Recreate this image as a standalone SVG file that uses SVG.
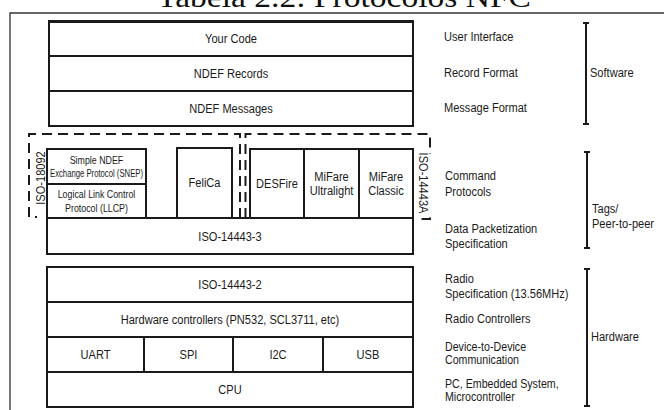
<svg xmlns="http://www.w3.org/2000/svg" width="664" height="410" viewBox="0 0 664 410">
<style>
.box{fill:#fff;stroke:#1a1a1a;stroke-width:2}
.dash{fill:none;stroke:#1a1a1a;stroke-width:2;stroke-dasharray:10 6}
.br{fill:none;stroke:#1a1a1a;stroke-width:2}
.t{font-family:"Liberation Sans",Arial,sans-serif;font-size:13.5px;fill:#1a1a1a}
.n{transform-box:fill-box;transform:scaleX(0.82)}
.m{text-anchor:middle;transform-origin:center}
.l{transform-origin:left center}
.s{font-size:10.8px}
.c{font-size:13px}
</style>
<rect width="664" height="410" fill="#fff"/>
<text x="157" y="7" font-family="Liberation Serif,serif" font-size="30" textLength="374" lengthAdjust="spacingAndGlyphs" fill="#111">Tabela 2.2: Protocolos NFC</text>
<path d="M10,410 V13 H664" fill="none" stroke="#333" stroke-width="1.3"/>

<g id="your-code"><rect class="box" x="49" y="21" width="364" height="35"/><line x1="49" y1="21.5" x2="413" y2="21.5" stroke="#1a1a1a" stroke-width="3"/><text class="t n m" x="231" y="43">Your Code</text></g>
<g id="ndef-records"><rect class="box" x="49" y="56" width="364" height="35"/><text class="t n m" x="231" y="78">NDEF Records</text></g>
<g id="ndef-messages"><rect class="box" x="49" y="91" width="364" height="35"/><text class="t n m" x="231" y="113">NDEF Messages</text></g>

<g id="iso-18092-group">
<path class="dash" d="M240,218 V134 H29 V217 H37"/>
<text class="t" transform="translate(45,178) rotate(-90) scale(0.82,1)" text-anchor="middle">ISO-18092</text>
</g>
<g id="iso-14443a-group">
<path class="dash" d="M245.5,218 V134 H430 V219 H421"/>
<rect x="416" y="154" width="18" height="59" fill="#fff"/>
<text class="t" transform="translate(419,183) rotate(90) scale(0.82,1)" text-anchor="middle">ISO-14443A</text>
</g>

<g id="snep"><rect class="box" x="47" y="149" width="99" height="35"/><text class="t s n m" x="96.5" y="164.5">Simple NDEF</text><text class="t s m" x="96.5" y="177" textLength="93" lengthAdjust="spacingAndGlyphs">Exchange Protocol (SNEP)</text></g>
<g id="llcp"><rect class="box" x="47" y="184" width="99" height="34"/><text class="t s n m" x="96.5" y="198">Logical Link Control</text><text class="t s n m" x="96.5" y="212">Protocol (LLCP)</text></g>
<g id="felica"><rect class="box" x="177" y="148" width="55" height="70"/><text class="t n m" x="204.5" y="187" font-size="14.5">FeliCa</text></g>
<g id="desfire"><rect class="box" x="250" y="149" width="54" height="69"/><text class="t n m" x="277" y="188" font-size="14.5">DESFire</text></g>
<g id="mifare-ultralight"><rect class="box" x="304" y="149" width="55" height="69"/><text class="t n m" x="331.5" y="181">MiFare</text><text class="t n m" x="331.5" y="195">Ultralight</text></g>
<g id="mifare-classic"><rect class="box" x="359" y="149" width="54" height="69"/><text class="t n m" x="386" y="181">MiFare</text><text class="t n m" x="386" y="195">Classic</text></g>
<g id="iso-14443-3"><rect class="box" x="47" y="218" width="366" height="36"/><text class="t n m" x="230" y="241">ISO-14443-3</text></g>

<g id="iso-14443-2"><rect class="box" x="47" y="267" width="366" height="35"/><text class="t n m" x="230" y="289">ISO-14443-2</text></g>
<g id="hw-controllers"><rect class="box" x="47" y="302" width="366" height="35"/><text class="t n m" x="230" y="324">Hardware controllers (PN532, SCL3711, etc)</text></g>
<g id="uart"><rect class="box" x="47" y="337" width="97" height="35"/><text class="t n m" x="95.5" y="359">UART</text></g>
<g id="spi"><rect class="box" x="144" y="337" width="89" height="35"/><text class="t n m" x="188.5" y="359">SPI</text></g>
<g id="i2c"><rect class="box" x="233" y="337" width="90" height="35"/><text class="t n m" x="278" y="359">I2C</text></g>
<g id="usb"><rect class="box" x="323" y="337" width="90" height="35"/><text class="t n m" x="368" y="359">USB</text></g>
<g id="cpu"><rect class="box" x="47" y="372" width="366" height="35"/><text class="t n m" x="230" y="394">CPU</text></g>

<g id="layer-labels">
<text class="t n l" x="444" y="41">User Interface</text>
<text class="t n l" x="444" y="77">Record Format</text>
<text class="t n l" x="444" y="112">Message Format</text>
<text class="t n l" x="445" y="180">Command</text>
<text class="t n l" x="445" y="196">Protocols</text>
<text class="t n l" x="445" y="233">Data Packetization</text>
<text class="t n l" x="445" y="248">Specification</text>
<text class="t n l" x="445" y="283">Radio</text>
<text class="t n l" x="445" y="298">Specification (13.56MHz)</text>
<text class="t n l" x="445" y="323">Radio Controllers</text>
<text class="t c n l" x="445" y="351">Device-to-Device</text>
<text class="t c n l" x="445" y="364">Communication</text>
<text class="t c n l" x="445" y="388">PC, Embedded System,</text>
<text class="t c n l" x="445" y="401">Microcontroller</text>
</g>

<g id="brackets">
<path class="br" d="M583,23 H589 M586,23 V124 M583,124 H589"/>
<path class="br" d="M584,152 H590 M587,152 V248 M584,248 H590"/>
<path class="br" d="M584,269 H590 M587,269 V406 M584,406 H590"/>
<text class="t n l" x="590" y="77">Software</text>
<text class="t n l" x="592" y="213">Tags/</text>
<text class="t n l" x="592" y="228">Peer-to-peer</text>
<text class="t n l" x="591" y="341">Hardware</text>
</g>
</svg>
